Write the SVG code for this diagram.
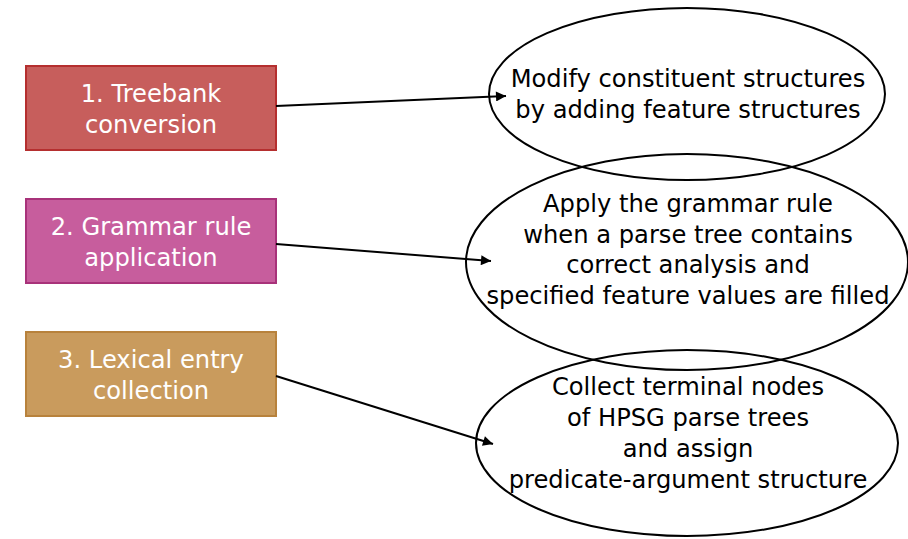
<svg xmlns="http://www.w3.org/2000/svg" width="908" height="539" viewBox="0 0 908 539">
<defs>
<marker id="ah" viewBox="0 0 10 10" refX="10" refY="5" markerWidth="16" markerHeight="10" markerUnits="userSpaceOnUse" orient="auto"><path d="M0,0 L10,5 L0,10 z" fill="#000"/></marker>
<style>
text{font-family:"DejaVu Sans",sans-serif;font-size:24.2px;text-anchor:middle}
.bt{fill:#fff}
.el{fill:none;stroke:#000;stroke-width:2}
.cn{stroke:#000;stroke-width:2;fill:none;marker-end:url(#ah)}
</style>
</defs>
<rect width="908" height="539" fill="#fff"/>
<g id="n1"><rect x="26" y="66" width="250" height="84" fill="#c75e5c" stroke="#b52f2f" stroke-width="2"/><text class="bt" x="151" y="102">1. Treebank</text><text class="bt" x="151" y="133">conversion</text></g>
<g id="n2"><rect x="26" y="199" width="250" height="84" fill="#c75d9d" stroke="#a8327a" stroke-width="2"/><text class="bt" x="151" y="235">2. Grammar rule</text><text class="bt" x="151" y="266">application</text></g>
<g id="n3"><rect x="26" y="332" width="250" height="84" fill="#c99b5d" stroke="#b8823c" stroke-width="2"/><text class="bt" x="151" y="368">3. Lexical entry</text><text class="bt" x="151" y="399">collection</text></g>
<g id="e1"><ellipse class="el" cx="687" cy="94" rx="198" ry="86"/><text x="688" y="87">Modify constituent structures</text><text x="688" y="118">by adding feature structures</text></g>
<g id="e2"><ellipse class="el" cx="687" cy="262" rx="221" ry="108"/><text x="688" y="212">Apply the grammar rule</text><text x="688" y="243">when a parse tree contains</text><text x="688" y="273">correct analysis and</text><text x="688" y="304">specified feature values are filled</text></g>
<g id="e3"><ellipse class="el" cx="687" cy="443" rx="211" ry="93"/><text x="688" y="395">Collect terminal nodes</text><text x="688" y="426">of HPSG parse trees</text><text x="688" y="457">and assign</text><text x="688" y="488">predicate-argument structure</text></g>
<g id="connectors">
<line class="cn" x1="276" y1="106" x2="506" y2="96"/>
<line class="cn" x1="276" y1="244" x2="491" y2="261"/>
<line class="cn" x1="276" y1="376" x2="493" y2="444"/>
</g>
</svg>
